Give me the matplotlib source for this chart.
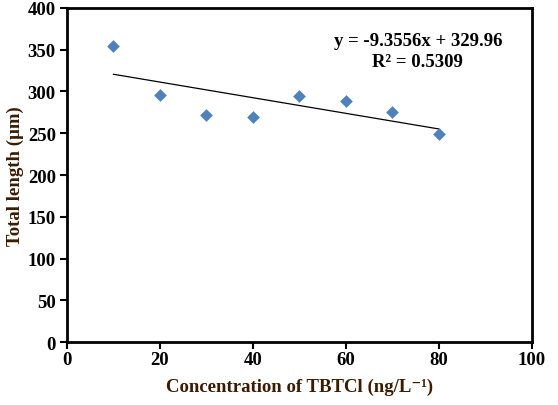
import numpy as np
import matplotlib
matplotlib.use("Agg")
import matplotlib.pyplot as plt

# data
conc = [10, 20, 30, 40, 50, 60, 70, 80]
length = [355, 296, 272, 270, 294, 288, 275, 249]

# excel trendline (fitted on point index 1..8)
slope = -9.3556
intercept = 329.96
r2 = 0.5309

plt.rcParams['font.family'] = ['Liberation Serif', 'DejaVu Serif']
plt.rcParams['font.weight'] = 'bold'

fig = plt.figure(figsize=(5.58, 4.06), dpi=100)
ax = fig.add_axes([0.120, 0.155, 0.833, 0.823])

ax.scatter(conc, length, marker='D', s=42, color='#4F81BD', zorder=3, linewidths=0)

idx = np.arange(1, len(conc) + 1)
trend = slope * idx + intercept
ax.plot([conc[0], conc[-1]], [trend[0], trend[-1]], color='black', lw=0.9)

ax.text(0.755, 0.871, f"y = {slope}x + {intercept}\nR² = {r2}", transform=ax.transAxes,
        ha='center', va='center', fontsize=13.5, fontweight='bold', linespacing=1.25)

ax.set_xlim(0, 100)
ax.set_ylim(0, 400)
ax.set_xticks(range(0, 101, 20))
ax.set_yticks(range(0, 401, 50))
for s in ax.spines.values():
    s.set_linewidth(2)
ax.tick_params(direction='out', length=5, width=1.5, labelsize=13.5)
ax.tick_params(axis='x', pad=1.5)
ax.tick_params(axis='y', pad=3)
for lab in ax.get_xticklabels() + ax.get_yticklabels():
    lab.set_fontweight('bold')

ax.set_xlabel("Concentration of TBTCl (ng/L⁻¹)", fontsize=13.5,
              fontweight='bold', color='#3b1c00', labelpad=7)
ax.set_ylabel("Total length (µm)", fontsize=13.5, fontweight='bold', color='#3b1c00', labelpad=3)

fig.savefig("out.png", dpi=100)
